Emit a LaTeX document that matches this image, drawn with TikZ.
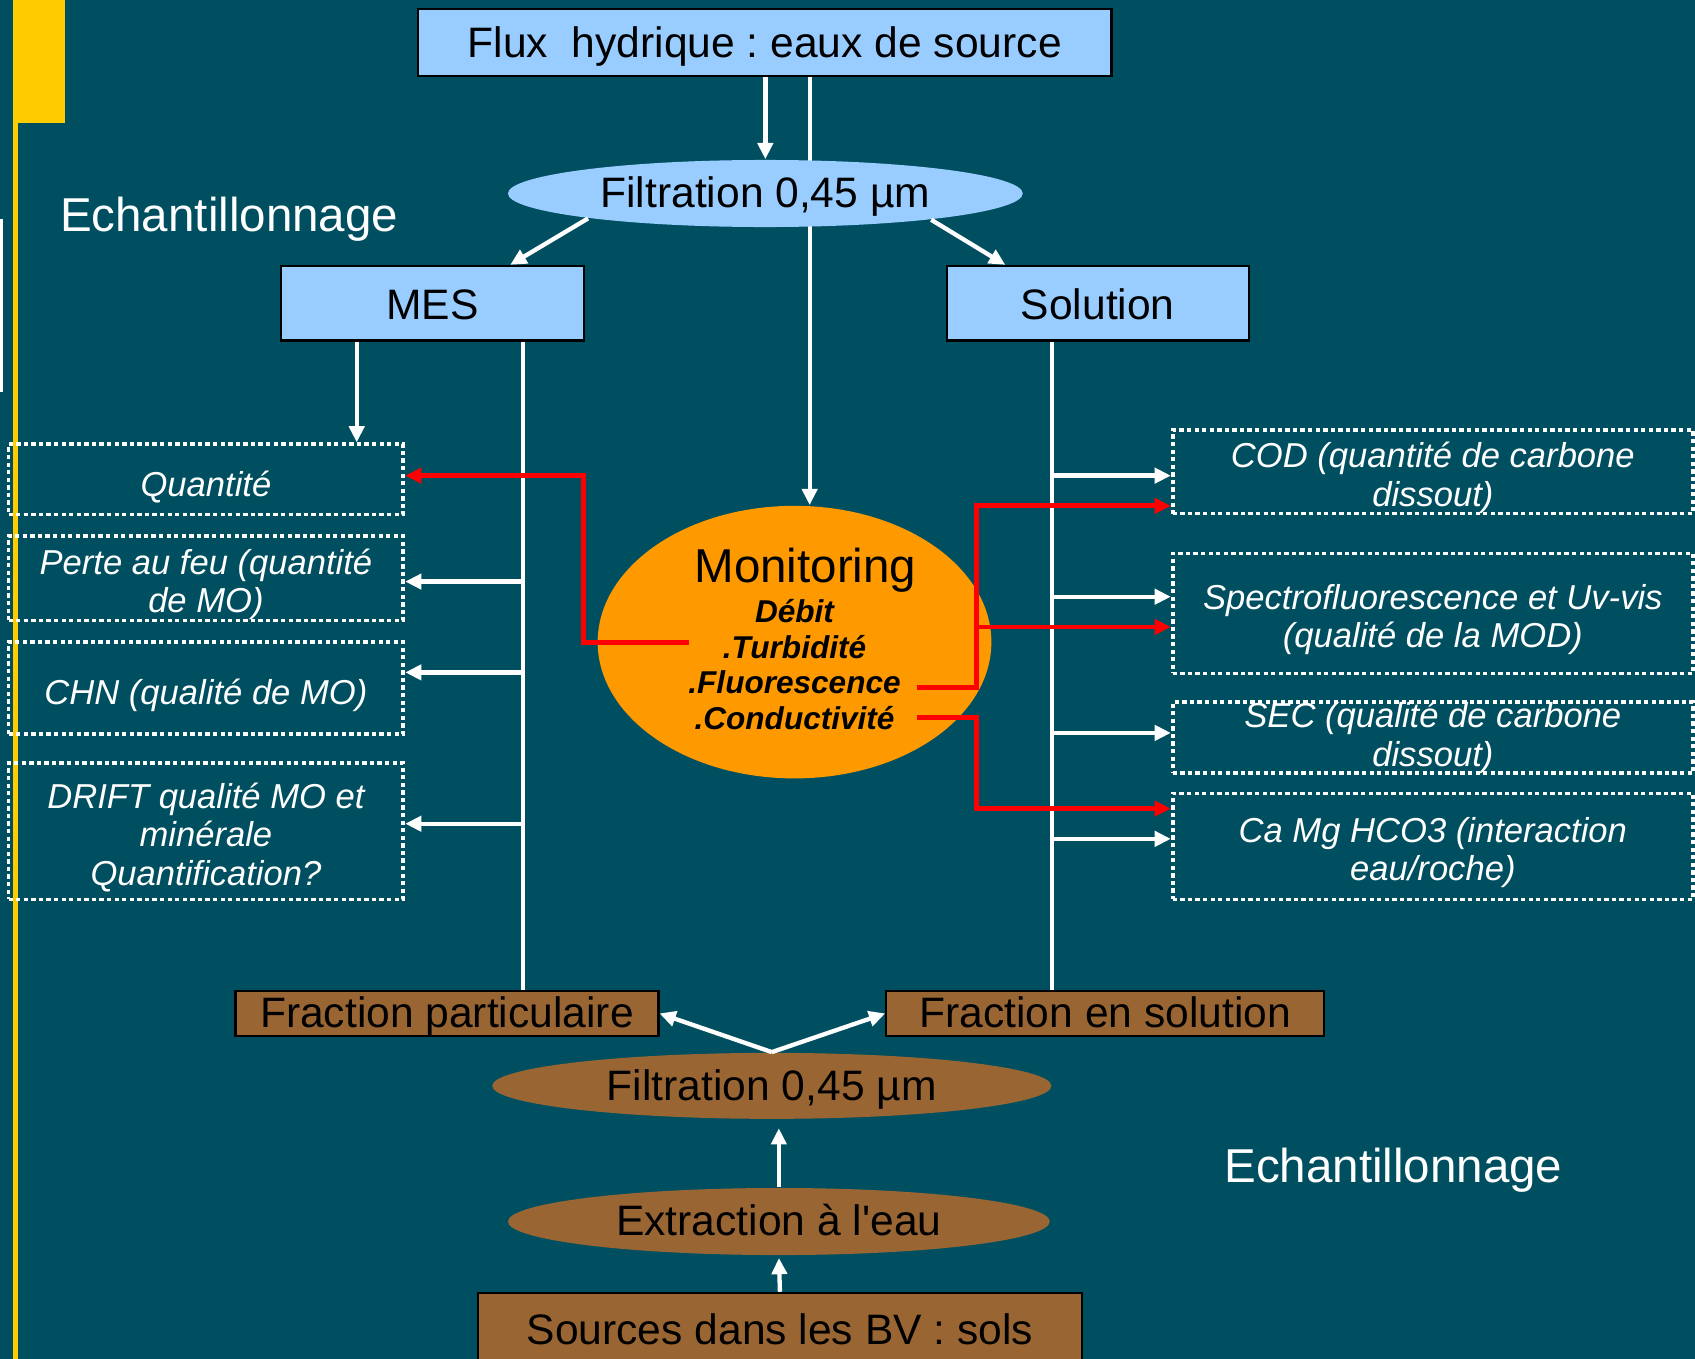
\documentclass[tikz,border=0pt]{standalone}
\usepackage{fontspec}
\setmainfont{Liberation Sans}
\usetikzlibrary{shapes.geometric,arrows.meta}
\definecolor{fond}{RGB}{0,79,96}
\definecolor{jaune}{RGB}{255,204,0}
\definecolor{bleuclair}{RGB}{153,204,255}
\definecolor{orangemon}{RGB}{255,153,0}
\definecolor{brun}{RGB}{153,102,51}
\newcommand\haut{\rule{0pt}{1.08em}}
\frenchspacing
\begin{document}
\begin{tikzpicture}[x=0.01cm,y=-0.01cm,
	every node/.style={execute at begin node={\rule{0pt}{0.95em}},execute at end node={\rule[-0.19em]{0pt}{0pt}}},
	ligne/.style={text height=0.9em,text depth=0.14em},
	bleu/.style={draw=black,fill=bleuclair,line width=0.02cm,inner ysep=0.04cm,font=\fontsize{11.2}{13.4}\selectfont},
	boite/.style={draw=black,fill=brun,line width=0.02cm,inner ysep=0pt,ligne,font=\fontsize{11.2}{13.4}\selectfont},
	ovale/.style={ellipse,inner sep=0pt,font=\fontsize{11.2}{13.4}\selectfont},
	pointille/.style={draw=white,line width=0.035cm,dash pattern=on 0.04cm off 0.03cm,inner sep=0pt,text=white,align=center,font=\fontsize{9.1}{10.1}\selectfont\itshape,execute at begin node={\rule{0pt}{1.15em}}},
	titre/.style={text=white,font=\fontsize{12.5}{14}\selectfont},
	fleche/.style={white,line width=0.04cm,-{Triangle[width=0.14cm,length=0.15cm]}},
	trait/.style={white,line width=0.04cm},
	rouge/.style={red,line width=0.045cm,-{Triangle[width=0.14cm,length=0.15cm]}}]
	
	\fill[fond] (0,0) rectangle (1568,1257);
	\clip (0,0) rectangle (1568,1257);
	\fill[jaune] (12,0) rectangle (60,114);
	\fill[jaune] (12,0) rectangle (16.5,1257);
	\fill[white] (0,203) rectangle (3,363);
	
	% haut
	\node[bleu,minimum width=6.41cm,minimum height=0.62cm] (flux) at (707.5,39) {Flux\ \ hydrique : eaux de source};
	\node[ovale,fill=orangemon,minimum width=3.64cm,minimum height=2.52cm,align=center,font=\fontsize{8.3}{9.4}\selectfont\bfseries\itshape,execute at end node={}] (mon) at (735,594)
		{{\fontsize{12.5}{14}\selectfont\mdseries\upshape\hspace*{0.2cm}Monitoring}\\[1pt] Débit\\ .Turbidité\\ .Fluorescence\\ .Conductivité};
	\draw[fleche] (749,0 |- flux.south) -- (749,0 |- mon.north);
	\node[ovale,ligne,fill=bleuclair,minimum width=4.76cm,minimum height=0.62cm] (filt) at (708,179) {Filtration 0,45 µm};
	\node[bleu,minimum width=2.8cm,minimum height=0.69cm] (mes) at (400,280.5) {MES};
	\node[bleu,minimum width=2.79cm,minimum height=0.69cm] (sol) at (1015.5,280.5) {Solution};
	\node[titre] (ech) at (212,198) {Echantillonnage};
	
	% gauche
	\node[pointille,minimum width=3.65cm,minimum height=0.65cm] (qte) at (190.5,443.5) {Quantité};
	\node[pointille,minimum width=3.65cm,minimum height=0.78cm] (perte) at (190.5,535) {\haut Perte au feu (quantité\\ de MO)};
	\node[pointille,minimum width=3.65cm,minimum height=0.85cm] (chn) at (190.5,636.5) {CHN (qualité de MO)};
	\node[pointille,minimum width=3.65cm,minimum height=1.26cm] (drift) at (190.5,769) {\haut DRIFT qualité MO et\\ minérale\\ Quantification?};
	
	% droite
	\node[pointille,minimum width=4.81cm,minimum height=0.77cm] (cod) at (1325.5,436.5) {\haut COD (quantité de carbone\\ dissout)};
	\node[pointille,minimum width=4.81cm,minimum height=1.11cm] (spec) at (1325.5,567.5) {\haut Spectrofluorescence et Uv-vis\\ (qualité de la MOD)};
	\node[pointille,minimum width=4.81cm,minimum height=0.63cm,execute at begin node={},execute at end node={}] (sec) at (1325.5,682.5) {SEC (qualité de carbone\\ dissout)};
	\node[pointille,minimum width=4.81cm,minimum height=0.98cm] (camg) at (1325.5,783) {\haut Ca Mg HCO3 (interaction\\ eau/roche)};
	
	% bas
	\node[boite,minimum width=3.91cm,minimum height=0.41cm] (fpart) at (413.5,937.5) {Fraction particulaire};
	\node[boite,minimum width=4.05cm,minimum height=0.41cm] (fsol) at (1022.5,937.5) {Fraction en solution};
	\node[ovale,ligne,fill=brun,minimum width=5.17cm,minimum height=0.61cm] (filt2) at (714,1004.5) {Filtration 0,45 µm};
	\node[ovale,ligne,fill=brun,minimum width=5.01cm,minimum height=0.62cm] (ext) at (720.5,1130) {Extraction à l\textquotesingle eau};
	\node[boite,minimum width=5.59cm,minimum height=0.68cm] (src) at (721.5,1230) {Sources dans les BV : sols};
	\node[titre] (ech2) at (1289,1078) {Echantillonnage};
	
	% liens
	\draw[fleche] (filt.north |- flux.south) -- (filt.north);
	\draw[fleche] (filt.188) -- (472,0 |- mes.north);
	\draw[fleche] (filt.-9) -- (930,0 |- sol.north);
	\draw[fleche] (330,0 |- mes.south) -- (330,0 |- qte.north);
	\draw[trait] (484,0 |- mes.south) -- (484,0 |- fpart.north);
	\foreach \y/\nom in {538/perte,622/chn,762/drift}
		\draw[fleche] (484,\y) -- (\nom.east |- 0,\y);
	\draw[trait] (973,0 |- sol.south) -- (973,0 |- fsol.north);
	\foreach \y/\nom in {440/cod,552/spec,678/sec,776/camg}
		\draw[fleche] (973,\y) -- (\nom.west |- 0,\y);
	
	\draw[rouge] (637,594) -| (540,440) -- (qte.east |- 0,440);
	\draw[rouge] (848,636) -| (903,468) -- (cod.west |- 0,468);
	\draw[rouge] (903,580) -- (spec.west |- 0,580);
	\draw[rouge] (848,664) -| (903,748) -- (camg.west |- 0,748);
	
	\draw[fleche] (filt2.north) -- (fpart.east);
	\draw[fleche] (filt2.north) -- (fsol.west);
	\draw[fleche,shorten >=0.08cm] (ext.north) -- (ext.north |- filt2.south);
	\draw[fleche,shorten >=0.02cm] (src.north) -- (ext.south);
\end{tikzpicture}
\end{document}
